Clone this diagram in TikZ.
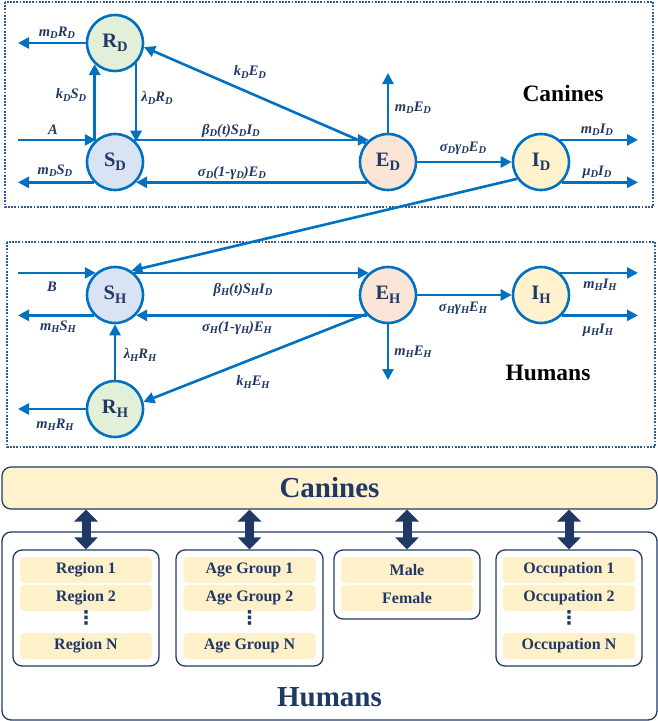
\documentclass[tikz,border=0pt]{standalone}
\usepackage{fontspec}
\setmainfont{Liberation Serif}
\newfontfamily\djv{DejaVu Sans}
\usetikzlibrary{arrows.meta}
\definecolor{ablue}{HTML}{0070C0}
\definecolor{navy}{HTML}{1F3864}
\definecolor{dotc}{HTML}{2E5C94}
\definecolor{fr}{HTML}{E2F0D9}
\definecolor{fs}{HTML}{DAE3F3}
\definecolor{fe}{HTML}{FBE5D6}
\definecolor{fi}{HTML}{FFF2CC}
\definecolor{fit}{HTML}{FEF0C9}
\newcommand{\lsubx}[1]{\raisebox{-0.35ex}{\fontsize{10.5}{11}\selectfont #1}}
\newcommand{\csubx}[1]{\raisebox{-0.45ex}{\fontsize{14.5}{15}\selectfont #1}}
\begin{document}
\begin{tikzpicture}[x=1pt,y=-1pt,
  comp/.style={circle, draw=ablue, line width=2.6pt, minimum size=56pt, inner sep=0pt,
     font=\fontsize{20.5}{21}\selectfont\bfseries, text=navy},
  flow/.style={draw=ablue, line width=2.6pt, -{Triangle[length=11pt,width=11pt]}},
  lab/.style={font=\fontsize{14.5}{15}\selectfont\bfseries\itshape, text=navy, inner sep=0pt},
  zone/.style={draw=dotc, line width=2.2pt, dash pattern=on 1.8pt off 1.4pt},
  big/.style={font=\fontsize{23.5}{24}\selectfont\bfseries, text=black},
  bar/.style={draw=navy, line width=1.2pt, fill=fi, rounded corners=9pt},
  grp/.style={draw=navy, line width=1.3pt, rounded corners=9pt},
  item/.style={fill=fit, rounded corners=4pt, minimum width=132pt, minimum height=26pt,
     font=\fontsize{16}{16}\selectfont\bfseries, text=navy, inner sep=0pt},
  huge/.style={font=\fontsize{29}{30}\selectfont\bfseries, text=navy},
  dbl/.style={draw=navy, line width=9pt, {Triangle[length=12pt,width=23pt]}-{Triangle[length=12pt,width=23pt]}},
  vd/.style={text=navy, inner sep=0pt, font=\djv\bfseries\fontsize{19}{19}\selectfont, text height=8pt, text depth=3pt}
]
\useasboundingbox (0,0) rectangle (658,721);

% dotted zones
\draw[zone] (5,2) rectangle (653,207);
\draw[zone] (7,242) rectangle (655,447);

% compartments
\node[comp, fill=fr] (RD) at (115,43) {R\csubx{D}};
\node[comp, fill=fs] (SD) at (115,162) {S\csubx{D}};
\node[comp, fill=fe] (ED) at (388,162) {E\csubx{D}};
\node[comp, fill=fi] (ID) at (541,162) {I\csubx{D}};
\node[comp, fill=fs] (SH) at (115,295) {S\csubx{H}};
\node[comp, fill=fe] (EH) at (388,295) {E\csubx{H}};
\node[comp, fill=fi] (IH) at (541,295) {I\csubx{H}};
\node[comp, fill=fr] (RH) at (115,409) {R\csubx{H}};

% free ends
\coordinate (oRD) at (18,43);
\coordinate (iA) at (18,140);
\coordinate (oSD) at (18,182);
\coordinate (oED) at (388,73);
\coordinate (oID1) at (638,141);
\coordinate (oID2) at (638,182);
\coordinate (iB) at (18,273);
\coordinate (oSH) at (18,315);
\coordinate (oRH) at (18,409);
\coordinate (oEH) at (388,380);
\coordinate (oIH1) at (638,273);
\coordinate (oIH2) at (638,315);

% canine flows
\draw[flow] (RD.180) -- (oRD);
\draw[flow] (SD.134) -- (RD.226);
\draw[flow] (RD.-44) -- (SD.44);
\draw[flow] (ED.140) -- (RD.-8);
\draw[flow] (iA |- SD.131) -- (SD.131);
\draw[flow] (SD.49) -- (ED.131);
\draw[flow] (ED.-136) -- (SD.-44);
\draw[flow] (SD.-136) -- (oSD |- SD.-136);
\draw[flow] (ED.90) -- (oED);
\draw[flow] (ED.0) -- (ID.180);
\draw[flow] (ID.49) -- (oID1 |- ID.49);
\draw[flow] (ID.-44) -- (oID2 |- ID.-44);
% cross-species
\draw[flow] (ID.215) -- (SH.56);
% human flows
\draw[flow] (iB |- SH.131) -- (SH.131);
\draw[flow] (SH.-136) -- (oSH |- SH.-136);
\draw[flow] (SH.49) -- (EH.131);
\draw[flow] (EH.-136) -- (SH.-44);
\draw[flow] (RH.90) -- (SH.270);
\draw[flow] (EH.-139) -- (RH.14);
\draw[flow] (RH.180) -- (oRH);
\draw[flow] (EH.0) -- (IH.180);
\draw[flow] (EH.270) -- (oEH);
\draw[flow] (IH.49) -- (oIH1 |- IH.49);
\draw[flow] (IH.-44) -- (oIH2 |- IH.-44);

% canine labels
\node[lab] (l1) at (57,33) {m\lsubx{D}R\lsubx{D}};
\node[lab] (l2) at (71,95) {k\lsubx{D}S\lsubx{D}};
\node[lab] (l3) at (157,98) {λ\lsubx{D}R\lsubx{D}};
\node[lab] (l4) at (250,72) {k\lsubx{D}E\lsubx{D}};
\node[lab] (l5) at (53,130) {A};
\node[lab] (l6) at (231,131) {β\lsubx{D}(t)S\lsubx{D}I\lsubx{D}};
\node[lab] (l7) at (55,171) {m\lsubx{D}S\lsubx{D}};
\node[lab] (l8) at (232,173) {σ\lsubx{D}(1-γ\lsubx{D})E\lsubx{D}};
\node[lab] (l9) at (413,108) {m\lsubx{D}E\lsubx{D}};
\node[lab] (l10) at (463,148) {σ\lsubx{D}γ\lsubx{D}E\lsubx{D}};
\node[lab] (l11) at (597,130) {m\lsubx{D}I\lsubx{D}};
\node[lab] (l12) at (597,172) {μ\lsubx{D}I\lsubx{D}};
\node[big] (tc) at (563,93) {Canines};
% human labels
\node[lab] (h1) at (52,287) {B};
\node[lab] (h2) at (58,327) {m\lsubx{H}S\lsubx{H}};
\node[lab] (h3) at (243,290) {β\lsubx{H}(t)S\lsubx{H}I\lsubx{D}};
\node[lab] (h4) at (237,328) {σ\lsubx{H}(1-γ\lsubx{H})E\lsubx{H}};
\node[lab] (h5) at (140,355) {λ\lsubx{H}R\lsubx{H}};
\node[lab] (h6) at (253,382) {k\lsubx{H}E\lsubx{H}};
\node[lab] (h7) at (55,425) {m\lsubx{H}R\lsubx{H}};
\node[lab] (h8) at (463,308) {σ\lsubx{H}γ\lsubx{H}E\lsubx{H}};
\node[lab] (h9) at (413,352) {m\lsubx{H}E\lsubx{H}};
\node[lab] (h10) at (600,285) {m\lsubx{H}I\lsubx{H}};
\node[lab] (h11) at (598,330) {μ\lsubx{H}I\lsubx{H}};
\node[big] (th) at (548,373) {Humans};

% bottom structure
\node[bar, huge, minimum width=655pt, minimum height=42pt, inner sep=0pt] (cbar) at (329.5,488) {Canines};
\node[grp, minimum width=655pt, minimum height=188pt, inner sep=0pt] (hbox) at (329.5,626) {};
\node[huge] (hlab) at (329.5,697) {Humans};

\node[grp, minimum width=146pt, minimum height=116pt] (g1) at (86,608) {};
\node[grp, minimum width=147pt, minimum height=116pt] (g2) at (249.5,608) {};
\node[grp, minimum width=146pt, minimum height=69pt] (g3) at (407,584.5) {};
\node[grp, minimum width=146pt, minimum height=116pt] (g4) at (569,608) {};

\node[item] (r1) at (86,570) {Region 1};
\node[item] (r2) at (86,598) {Region 2};
\node[vd] (r3) at (86,622) {⋮};
\node[item] (rn) at (86,646) {Region N};

\node[item] (a1) at (249.5,570) {Age Group 1};
\node[item] (a2) at (249.5,598) {Age Group 2};
\node[vd] (a3) at (249.5,622) {⋮};
\node[item] (an) at (249.5,646) {Age Group N};

\node[item] (s1) at (407,570) {Male};
\node[item] (s2) at (407,598) {Female};

\node[item] (o1) at (569,570) {Occupation 1};
\node[item] (o2) at (569,598) {Occupation 2};
\node[vd] (o3) at (569,622) {⋮};
\node[item] (on) at (569,646) {Occupation N};

\draw[dbl] (cbar.south -| g1.north) -- (g1.north);
\draw[dbl] (cbar.south -| g2.north) -- (g2.north);
\draw[dbl] (cbar.south -| g3.north) -- (g3.north);
\draw[dbl] (cbar.south -| g4.north) -- (g4.north);
\end{tikzpicture}
\end{document}
